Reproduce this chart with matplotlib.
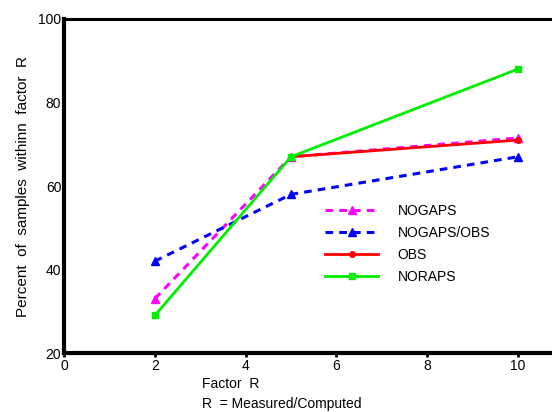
import matplotlib
matplotlib.use('Agg')
import matplotlib.pyplot as plt

factor_r = [2, 5, 10]
nogaps = [33, 67, 71.5]
nogaps_obs = [42, 58, 67]
obs_x = [5, 10]
obs = [67, 71]
noraps = [29, 67, 88]

x_ticks = [0, 2, 4, 6, 8, 10]
y_ticks = [20, 40, 60, 80, 100]

plt.rcParams['font.family'] = ['Liberation Sans', 'DejaVu Sans']

fig = plt.figure(figsize=(5.52, 4.12), dpi=100)
ax = fig.add_axes([0.116, 0.143, 0.884, 0.811])

ax.plot(factor_r, nogaps, '--', color='#ff00ff', lw=2.2, dashes=(2.5, 2),
        marker='^', ms=5.5, label='NOGAPS')
ax.plot(factor_r, nogaps_obs, '--', color='#0000ff', lw=2.2, dashes=(2.5, 2),
        marker='^', ms=5.5, label='NOGAPS/OBS')
ax.plot(obs_x, obs, '-', color='#ff0000', lw=2, marker='o', ms=4, label='OBS')
ax.plot(factor_r, noraps, '-', color='#00ee00', lw=2, marker='s', ms=4, label='NORAPS')

ax.set_xlim(0, 10.75)
ax.set_ylim(20, 100)
ax.set_xticks(x_ticks)
ax.set_yticks(y_ticks)
ax.tick_params(axis='x', direction='out', length=3, width=2, pad=1, labelsize=10)
ax.tick_params(axis='y', length=0, pad=2, labelsize=10)

for side in ['left', 'bottom']:
    ax.spines[side].set_linewidth(3)
ax.spines['top'].set_linewidth(2.2)
ax.spines['right'].set_visible(False)

ax.set_ylabel('Percent  of  samples  withinn  factor  R', fontsize=11, labelpad=6)
fig.text(0.366, 0.058, 'Factor  R', fontsize=10)
fig.text(0.366, 0.01, 'R  = Measured/Computed', fontsize=10)

ax.legend(loc='upper left', bbox_to_anchor=(0.51, 0.483), frameon=False,
          handlelength=3.8, labelspacing=0.57, handletextpad=1.4, fontsize=10)

fig.savefig('out.png', dpi=100)
